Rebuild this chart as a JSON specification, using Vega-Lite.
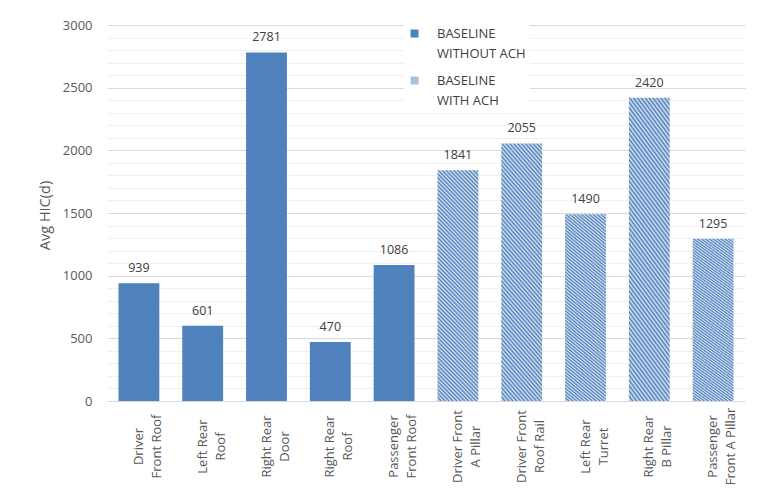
{
  "$schema": "https://vega.github.io/schema/vega-lite/v6.json",
  "width": 638,
  "height": 376,
  "autosize": {"type": "none"},
  "padding": {"left": 107, "top": 25, "right": 13, "bottom": 103},
  "background": "white",
  "config": {"font": "Open Sans", "view": {"stroke": null}},
  "data": {"values": [
    {"location": "Driver|Front Roof", "value": 939, "group": "BASELINE|WITHOUT ACH"},
    {"location": "Left Rear|Roof", "value": 601, "group": "BASELINE|WITHOUT ACH"},
    {"location": "Right Rear|Door", "value": 2781, "group": "BASELINE|WITHOUT ACH"},
    {"location": "Right Rear|Roof", "value": 470, "group": "BASELINE|WITHOUT ACH"},
    {"location": "Passenger|Front Roof", "value": 1086, "group": "BASELINE|WITHOUT ACH"},
    {"location": "Driver Front|A Pillar", "value": 1841, "group": "BASELINE|WITH ACH"},
    {"location": "Driver Front|Roof Rail", "value": 2055, "group": "BASELINE|WITH ACH"},
    {"location": "Left Rear|Turret", "value": 1490, "group": "BASELINE|WITH ACH"},
    {"location": "Right Rear|B Pillar", "value": 2420, "group": "BASELINE|WITH ACH"},
    {"location": "Passenger|Front A Pillar", "value": 1295, "group": "BASELINE|WITH ACH"}
  ]},
  "encoding": {
    "x": {
      "field": "location", "type": "nominal", "sort": null,
      "scale": {"paddingInner": 0.36, "paddingOuter": 0.18},
      "axis": {
        "title": null, "labelAngle": 270, "labelAlign": "center", "labelBaseline": "middle",
        "labelPadding": 45, "ticks": false, "tickSize": 0, "labelLineHeight": 18,
        "labelFontSize": 13, "labelColor": "#595959", "domainColor": "#d9d9d9",
        "labelExpr": "split(datum.label, '|')"
      }
    },
    "y": {
      "field": "value", "type": "quantitative",
      "scale": {"domain": [0, 3000], "nice": false},
      "axis": {
        "title": "Avg HIC(d)", "titleFontSize": 14.5, "titleColor": "#595959", "titleFontWeight": "normal",
        "titleX": -62, "titleY": 190, "titleBaseline": "middle",
        "values": [0,100,200,300,400,500,600,700,800,900,1000,1100,1200,1300,1400,1500,1600,1700,1800,1900,2000,2100,2200,2300,2400,2500,2600,2700,2800,2900,3000],
        "format": "d",
        "labelExpr": "datum.value % 500 === 0 ? datum.label : ''",
        "gridColor": {"condition": {"test": "datum.value % 500 === 0", "value": "#d9d9d9"}, "value": "#f0f0f0"},
        "domain": false, "ticks": false, "tickSize": 0, "labelPadding": 15,
        "labelFontSize": 13, "labelColor": "#595959"
      }
    }
  },
  "layer": [
    {
      "mark": {"type": "bar"},
      "encoding": {
        "fill": {
          "field": "group", "type": "nominal",
          "scale": {"domain": ["BASELINE|WITHOUT ACH", "BASELINE|WITH ACH"], "range": ["#4f81bd", "#a9c0e0"]},
          "condition": {
            "test": "datum.group === 'BASELINE|WITH ACH'",
            "value": {"gradient": "linear", "x1": 0, "y1": 1, "x2": 0.3043, "y2": -0.674, "stops": [
              {"offset": 0, "color": "#4a7ebb"}, {"offset": 0.005, "color": "#dae4f1"},
              {"offset": 0.01, "color": "#4a7ebb"}, {"offset": 0.015, "color": "#dae4f1"},
              {"offset": 0.02, "color": "#4a7ebb"}, {"offset": 0.025, "color": "#dae4f1"},
              {"offset": 0.03, "color": "#4a7ebb"}, {"offset": 0.035, "color": "#dae4f1"},
              {"offset": 0.04, "color": "#4a7ebb"}, {"offset": 0.045, "color": "#dae4f1"},
              {"offset": 0.05, "color": "#4a7ebb"}, {"offset": 0.055, "color": "#dae4f1"},
              {"offset": 0.06, "color": "#4a7ebb"}, {"offset": 0.065, "color": "#dae4f1"},
              {"offset": 0.07, "color": "#4a7ebb"}, {"offset": 0.075, "color": "#dae4f1"},
              {"offset": 0.08, "color": "#4a7ebb"}, {"offset": 0.085, "color": "#dae4f1"},
              {"offset": 0.09, "color": "#4a7ebb"}, {"offset": 0.095, "color": "#dae4f1"},
              {"offset": 0.1, "color": "#4a7ebb"}, {"offset": 0.105, "color": "#dae4f1"},
              {"offset": 0.11, "color": "#4a7ebb"}, {"offset": 0.115, "color": "#dae4f1"},
              {"offset": 0.12, "color": "#4a7ebb"}, {"offset": 0.125, "color": "#dae4f1"},
              {"offset": 0.13, "color": "#4a7ebb"}, {"offset": 0.135, "color": "#dae4f1"},
              {"offset": 0.14, "color": "#4a7ebb"}, {"offset": 0.145, "color": "#dae4f1"},
              {"offset": 0.15, "color": "#4a7ebb"}, {"offset": 0.155, "color": "#dae4f1"},
              {"offset": 0.16, "color": "#4a7ebb"}, {"offset": 0.165, "color": "#dae4f1"},
              {"offset": 0.17, "color": "#4a7ebb"}, {"offset": 0.175, "color": "#dae4f1"},
              {"offset": 0.18, "color": "#4a7ebb"}, {"offset": 0.185, "color": "#dae4f1"},
              {"offset": 0.19, "color": "#4a7ebb"}, {"offset": 0.195, "color": "#dae4f1"},
              {"offset": 0.2, "color": "#4a7ebb"}, {"offset": 0.205, "color": "#dae4f1"},
              {"offset": 0.21, "color": "#4a7ebb"}, {"offset": 0.215, "color": "#dae4f1"},
              {"offset": 0.22, "color": "#4a7ebb"}, {"offset": 0.225, "color": "#dae4f1"},
              {"offset": 0.23, "color": "#4a7ebb"}, {"offset": 0.235, "color": "#dae4f1"},
              {"offset": 0.24, "color": "#4a7ebb"}, {"offset": 0.245, "color": "#dae4f1"},
              {"offset": 0.25, "color": "#4a7ebb"}, {"offset": 0.255, "color": "#dae4f1"},
              {"offset": 0.26, "color": "#4a7ebb"}, {"offset": 0.265, "color": "#dae4f1"},
              {"offset": 0.27, "color": "#4a7ebb"}, {"offset": 0.275, "color": "#dae4f1"},
              {"offset": 0.28, "color": "#4a7ebb"}, {"offset": 0.285, "color": "#dae4f1"},
              {"offset": 0.29, "color": "#4a7ebb"}, {"offset": 0.295, "color": "#dae4f1"},
              {"offset": 0.3, "color": "#4a7ebb"}, {"offset": 0.305, "color": "#dae4f1"},
              {"offset": 0.31, "color": "#4a7ebb"}, {"offset": 0.315, "color": "#dae4f1"},
              {"offset": 0.32, "color": "#4a7ebb"}, {"offset": 0.325, "color": "#dae4f1"},
              {"offset": 0.33, "color": "#4a7ebb"}, {"offset": 0.335, "color": "#dae4f1"},
              {"offset": 0.34, "color": "#4a7ebb"}, {"offset": 0.345, "color": "#dae4f1"},
              {"offset": 0.35, "color": "#4a7ebb"}, {"offset": 0.355, "color": "#dae4f1"},
              {"offset": 0.36, "color": "#4a7ebb"}, {"offset": 0.365, "color": "#dae4f1"},
              {"offset": 0.37, "color": "#4a7ebb"}, {"offset": 0.375, "color": "#dae4f1"},
              {"offset": 0.38, "color": "#4a7ebb"}, {"offset": 0.385, "color": "#dae4f1"},
              {"offset": 0.39, "color": "#4a7ebb"}, {"offset": 0.395, "color": "#dae4f1"},
              {"offset": 0.4, "color": "#4a7ebb"}, {"offset": 0.405, "color": "#dae4f1"},
              {"offset": 0.41, "color": "#4a7ebb"}, {"offset": 0.415, "color": "#dae4f1"},
              {"offset": 0.42, "color": "#4a7ebb"}, {"offset": 0.425, "color": "#dae4f1"},
              {"offset": 0.43, "color": "#4a7ebb"}, {"offset": 0.435, "color": "#dae4f1"},
              {"offset": 0.44, "color": "#4a7ebb"}, {"offset": 0.445, "color": "#dae4f1"},
              {"offset": 0.45, "color": "#4a7ebb"}, {"offset": 0.455, "color": "#dae4f1"},
              {"offset": 0.46, "color": "#4a7ebb"}, {"offset": 0.465, "color": "#dae4f1"},
              {"offset": 0.47, "color": "#4a7ebb"}, {"offset": 0.475, "color": "#dae4f1"},
              {"offset": 0.48, "color": "#4a7ebb"}, {"offset": 0.485, "color": "#dae4f1"},
              {"offset": 0.49, "color": "#4a7ebb"}, {"offset": 0.495, "color": "#dae4f1"},
              {"offset": 0.5, "color": "#4a7ebb"}, {"offset": 0.505, "color": "#dae4f1"},
              {"offset": 0.51, "color": "#4a7ebb"}, {"offset": 0.515, "color": "#dae4f1"},
              {"offset": 0.52, "color": "#4a7ebb"}, {"offset": 0.525, "color": "#dae4f1"},
              {"offset": 0.53, "color": "#4a7ebb"}, {"offset": 0.535, "color": "#dae4f1"},
              {"offset": 0.54, "color": "#4a7ebb"}, {"offset": 0.545, "color": "#dae4f1"},
              {"offset": 0.55, "color": "#4a7ebb"}, {"offset": 0.555, "color": "#dae4f1"},
              {"offset": 0.56, "color": "#4a7ebb"}, {"offset": 0.565, "color": "#dae4f1"},
              {"offset": 0.57, "color": "#4a7ebb"}, {"offset": 0.575, "color": "#dae4f1"},
              {"offset": 0.58, "color": "#4a7ebb"}, {"offset": 0.585, "color": "#dae4f1"},
              {"offset": 0.59, "color": "#4a7ebb"}, {"offset": 0.595, "color": "#dae4f1"},
              {"offset": 0.6, "color": "#4a7ebb"}, {"offset": 0.605, "color": "#dae4f1"},
              {"offset": 0.61, "color": "#4a7ebb"}, {"offset": 0.615, "color": "#dae4f1"},
              {"offset": 0.62, "color": "#4a7ebb"}, {"offset": 0.625, "color": "#dae4f1"},
              {"offset": 0.63, "color": "#4a7ebb"}, {"offset": 0.635, "color": "#dae4f1"},
              {"offset": 0.64, "color": "#4a7ebb"}, {"offset": 0.645, "color": "#dae4f1"},
              {"offset": 0.65, "color": "#4a7ebb"}, {"offset": 0.655, "color": "#dae4f1"},
              {"offset": 0.66, "color": "#4a7ebb"}, {"offset": 0.665, "color": "#dae4f1"},
              {"offset": 0.67, "color": "#4a7ebb"}, {"offset": 0.675, "color": "#dae4f1"},
              {"offset": 0.68, "color": "#4a7ebb"}, {"offset": 0.685, "color": "#dae4f1"},
              {"offset": 0.69, "color": "#4a7ebb"}
            ]}
          },
          "legend": {
            "title": null, "orient": "none", "legendX": 297, "legendY": -2,
            "padding": 4, "fillColor": "white", "symbolType": "square", "symbolSize": 64,
            "symbolStrokeWidth": 0, "labelOffset": 16, "labelFontSize": 13, "labelColor": "#404040",
            "rowPadding": 13, "labelExpr": "split(datum.label, '|')",
            "encode": {
              "labels": {"update": {"lineHeight": {"value": 20}}}
            }
          }
        }
      }
    },
    {
      "mark": {"type": "text", "baseline": "alphabetic", "dy": -11, "fontSize": 12.5, "color": "#404040"},
      "encoding": {"text": {"field": "value", "type": "quantitative", "format": "d"}}
    }
  ]
}
